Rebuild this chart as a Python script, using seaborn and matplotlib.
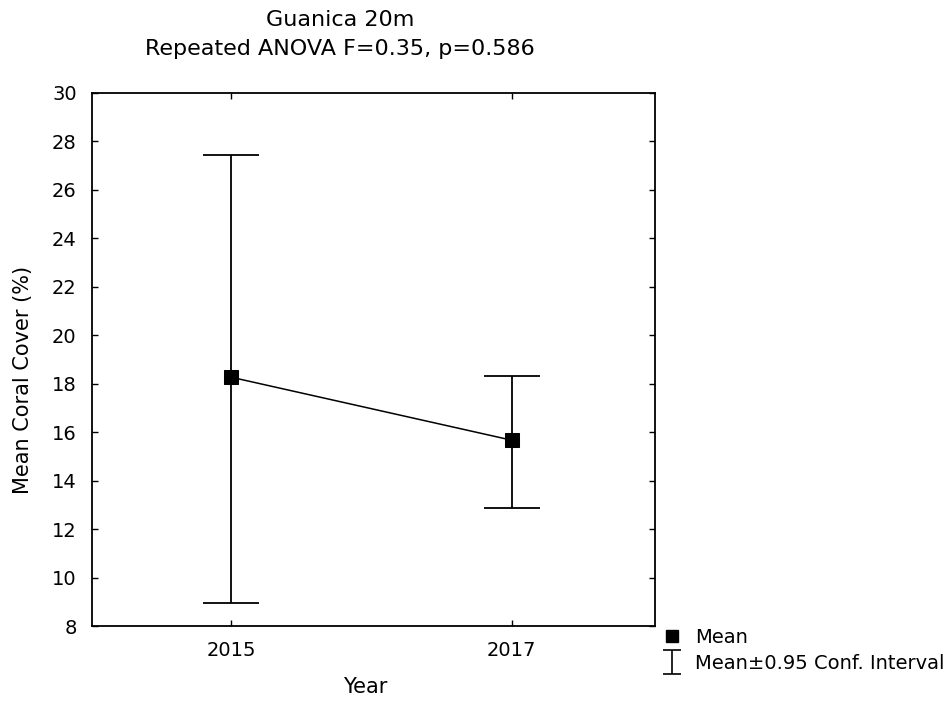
import numpy as np
import pandas as pd
import seaborn as sns
import matplotlib.pyplot as plt
from matplotlib.lines import Line2D
from matplotlib.path import Path

# values
years = ['2015', '2017']
mean_cover = [18.27, 15.67]
ci_low = [8.96, 12.88]
ci_high = [27.43, 18.33]

df = pd.DataFrame({'Year': years, 'Mean': mean_cover, 'Low': ci_low, 'High': ci_high})
df['pos'] = np.arange(len(df))

sns.set_style('ticks')
plt.rcParams['font.family'] = ['DejaVu Sans']
plt.rcParams['text.color'] = 'black'
plt.rcParams['axes.labelcolor'] = 'black'

fig = plt.figure(figsize=(9.53, 7.09), dpi=100)
ax = fig.add_axes([0.0965, 0.117, 0.5905, 0.752])

# confidence interval whiskers
ax.errorbar(df['pos'], df['Mean'],
            yerr=[df['Mean'] - df['Low'], df['High'] - df['Mean']],
            fmt='none', ecolor='black', elinewidth=1.3, capsize=20, capthick=1.3, zorder=2)

# mean line + square markers
sns.lineplot(data=df, x='pos', y='Mean', color='black', linewidth=1.1,
             marker='s', markersize=10, markeredgecolor='black', ax=ax, zorder=3)

ax.set_xlim(-0.495, 1.51)
ax.set_ylim(8, 30)
ax.set_xticks(df['pos'], years)
ax.set_yticks(np.arange(8, 31, 2))
ax.tick_params(direction='in', top=True, right=True, length=4, width=1,
               labelsize=14, colors='black', pad=11)
for s in ax.spines.values():
    s.set_linewidth(1.3)
    s.set_color('black')

ax.set_xlabel('Year', fontsize=15)
ax.xaxis.set_label_coords(0.485, -0.095)
ax.set_ylabel('Mean Coral Cover (%)', fontsize=15)
ax.yaxis.set_label_coords(-0.105, 0.4615)

fig.text(340 / 953, 1 - 20 / 709, 'Guanica 20m', ha='center', va='center', fontsize=16)
fig.text(340 / 953, 1 - 49 / 709, 'Repeated ANOVA F=0.35, p=0.586', ha='center', va='center', fontsize=16)

# legend outside, bottom right
ibeam = Path([(-0.75, -1), (0.75, -1), (0, -1), (0, 1), (-0.75, 1), (0.75, 1)],
             [Path.MOVETO, Path.LINETO, Path.MOVETO, Path.LINETO, Path.MOVETO, Path.LINETO])
handles = [
    Line2D([], [], marker='s', linestyle='none', color='black', markersize=8),
    Line2D([], [], marker=ibeam, linestyle='none', color='black', markersize=17,
           markeredgewidth=1.2, fillstyle='none'),
]
fig.legend(handles, ['Mean', 'Mean±0.95 Conf. Interval'], loc='upper left',
           bbox_to_anchor=(660 / 953, 1 - 628 / 709), frameon=False, fontsize=14,
           handlelength=1.2, handletextpad=0.6, borderaxespad=0, borderpad=0,
           labelspacing=0.35)

plt.savefig('out.png', dpi=100)
